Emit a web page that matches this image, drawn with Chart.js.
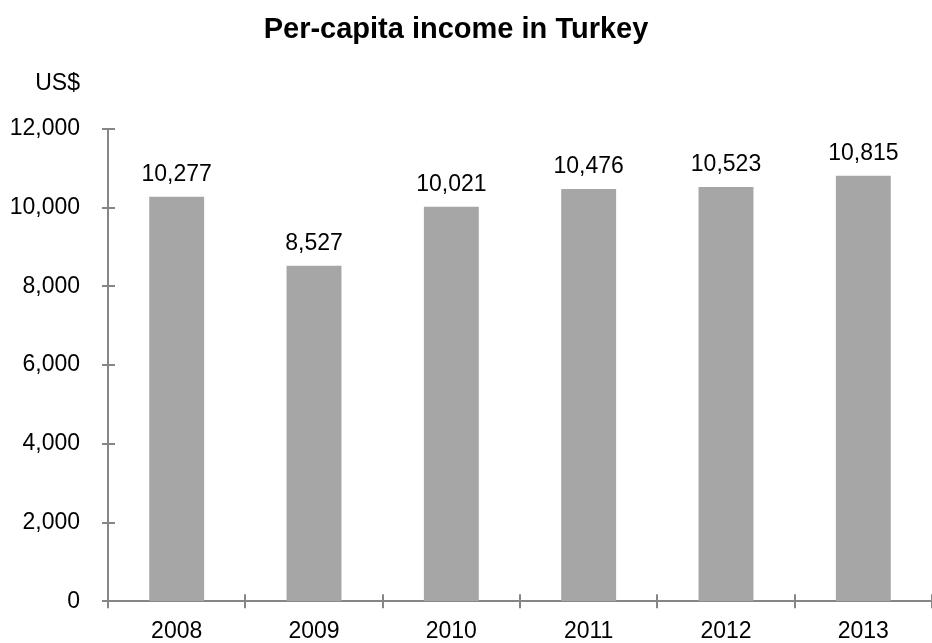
<!DOCTYPE html>
<html>
<head>
<meta charset="utf-8">
<title>Per-capita income in Turkey</title>
<script src="https://cdn.jsdelivr.net/npm/chart.js@4/dist/chart.umd.min.js"></script>
<style>
  html, body { margin: 0; padding: 0; background: #fff; overflow: hidden; }
  #wrap { position: relative; width: 932px; height: 643px; }
</style>
</head>
<body>
<div id="wrap"><canvas id="incomeChart"></canvas></div>
<script>
// Datos
const years = ['2008', '2009', '2010', '2011', '2012', '2013'];
const incomeUsd = [10277, 8527, 10021, 10476, 10523, 10815];
const yTicks = [0, 2000, 4000, 6000, 8000, 10000, 12000];

const chartTitle = 'Per-capita income in Turkey';
const unitLabel = 'US$';

const FONT = '"Liberation Sans", Arial, sans-serif';
const AXIS_COLOR = '#868686';
const BAR_COLOR = '#a6a6a6';

function fmt(v) {
    return Number(v).toLocaleString('en-US');
}

// Título, unidad, marcas de eje cruzadas y etiquetas de valor
const decorations = {
    id: 'decorations',
    afterDraw(chart) {
        const ctx = chart.ctx;
        const xs = chart.scales.x;
        const ys = chart.scales.y;
        const area = chart.chartArea;

        ctx.save();
        ctx.strokeStyle = AXIS_COLOR;
        ctx.lineWidth = 2;

        // marcas del eje Y
        yTicks.forEach(v => {
            const py = Math.round(ys.getPixelForValue(v));
            ctx.beginPath();
            ctx.moveTo(area.left - 6, py);
            ctx.lineTo(area.left + 7, py);
            ctx.stroke();
        });

        // marcas del eje X entre categorías
        for (let i = 0; i <= years.length; i++) {
            const px = Math.round(xs.getPixelForValue(i - 0.5));
            ctx.beginPath();
            ctx.moveTo(px, area.bottom - 7);
            ctx.lineTo(px, area.bottom + 7);
            ctx.stroke();
        }

        // valores sobre las barras
        ctx.fillStyle = '#000';
        ctx.font = '23px ' + FONT;
        ctx.textAlign = 'center';
        ctx.textBaseline = 'alphabetic';
        chart.getDatasetMeta(0).data.forEach((bar, i) => {
            ctx.fillText(fmt(incomeUsd[i]), bar.x, bar.y - 16);
        });

        // unidad
        ctx.textAlign = 'right';
        ctx.fillText(unitLabel, area.left - 28, area.top - 39);

        // título
        ctx.font = 'bold 29px ' + FONT;
        ctx.textAlign = 'center';
        ctx.fillText(chartTitle, 456, 38);
        ctx.restore();
    }
};

document.addEventListener('DOMContentLoaded', function() {
    const ctx = document.getElementById('incomeChart').getContext('2d');

    new Chart(ctx, {
        type: 'bar',
        data: {
            labels: years,
            datasets: [{
                label: unitLabel,
                data: incomeUsd,
                backgroundColor: BAR_COLOR,
                borderWidth: 0,
                categoryPercentage: 1,
                barPercentage: 0.4
            }]
        },
        options: {
            responsive: true,
            maintainAspectRatio: false,
            animation: false,
            layout: {
                padding: { top: 129, right: 0, bottom: 0, left: 0 }
            },
            plugins: {
                legend: { display: false },
                title: { display: false },
                tooltip: { enabled: false }
            },
            scales: {
                x: {
                    grid: { display: false, drawTicks: false },
                    border: { display: true, color: AXIS_COLOR, width: 2 },
                    ticks: {
                        color: '#000',
                        font: { family: FONT, size: 23 },
                        padding: 17,
                        maxRotation: 0
                    },
                    afterFit(scale) {
                        scale.height = 38;
                    }
                },
                y: {
                    min: 0,
                    max: 12000,
                    grid: { display: false, drawTicks: false },
                    border: { display: true, color: AXIS_COLOR, width: 2 },
                    afterBuildTicks(scale) {
                        scale.ticks = yTicks.map(v => ({ value: v }));
                    },
                    ticks: {
                        color: '#000',
                        font: { family: FONT, size: 23 },
                        padding: 28,
                        callback: v => fmt(v)
                    },
                    afterFit(scale) {
                        scale.width = 108;
                    }
                }
            }
        },
        plugins: [decorations]
    });
});
</script>
</body>
</html>
